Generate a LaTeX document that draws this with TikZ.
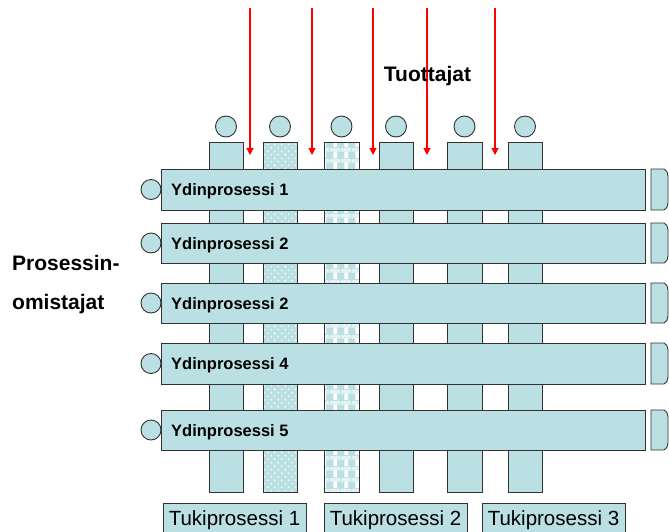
\documentclass[tikz,border=0pt]{standalone}
\usepackage{fontspec}
\setmainfont{Liberation Sans}
\usetikzlibrary{arrows.meta,patterns}

\definecolor{panelblue}{RGB}{187,224,227}
\definecolor{edgegray}{RGB}{50,50,50}
\definecolor{arrowred}{RGB}{255,0,0}

% sparse white dots for the second support column
\pgfdeclarepatternformonly{sparsedots}{\pgfqpoint{-1pt}{-1pt}}{\pgfqpoint{8pt}{8pt}}{\pgfqpoint{7pt}{7pt}}{%
  \pgfpathcircle{\pgfqpoint{1.75pt}{1.75pt}}{0.8pt}%
  \pgfpathcircle{\pgfqpoint{5.25pt}{5.25pt}}{0.8pt}%
  \pgfusepath{fill}}

% plaid-like weave for the third support column
\pgfdeclarepatternformonly{plaidweave}{\pgfqpoint{0pt}{0pt}}{\pgfqpoint{11pt}{11pt}}{\pgfqpoint{11pt}{11pt}}{%
  \pgfpathrectangle{\pgfqpoint{3.5pt}{0pt}}{\pgfqpoint{4pt}{7pt}}%
  \pgfpathrectangle{\pgfqpoint{0pt}{7pt}}{\pgfqpoint{1pt}{1pt}}%
  \pgfpathrectangle{\pgfqpoint{2pt}{7pt}}{\pgfqpoint{1pt}{1pt}}%
  \pgfpathrectangle{\pgfqpoint{4pt}{7pt}}{\pgfqpoint{1pt}{1pt}}%
  \pgfpathrectangle{\pgfqpoint{6pt}{7pt}}{\pgfqpoint{1pt}{1pt}}%
  \pgfpathrectangle{\pgfqpoint{8pt}{7pt}}{\pgfqpoint{1pt}{1pt}}%
  \pgfpathrectangle{\pgfqpoint{10pt}{7pt}}{\pgfqpoint{1pt}{1pt}}%
  \pgfpathrectangle{\pgfqpoint{1pt}{8pt}}{\pgfqpoint{1pt}{1pt}}%
  \pgfpathrectangle{\pgfqpoint{3pt}{8pt}}{\pgfqpoint{1pt}{1pt}}%
  \pgfpathrectangle{\pgfqpoint{5pt}{8pt}}{\pgfqpoint{1pt}{1pt}}%
  \pgfpathrectangle{\pgfqpoint{7pt}{8pt}}{\pgfqpoint{1pt}{1pt}}%
  \pgfpathrectangle{\pgfqpoint{9pt}{8pt}}{\pgfqpoint{1pt}{1pt}}%
  \pgfpathrectangle{\pgfqpoint{0pt}{9pt}}{\pgfqpoint{1pt}{1pt}}%
  \pgfpathrectangle{\pgfqpoint{2pt}{9pt}}{\pgfqpoint{1pt}{1pt}}%
  \pgfpathrectangle{\pgfqpoint{4pt}{9pt}}{\pgfqpoint{1pt}{1pt}}%
  \pgfpathrectangle{\pgfqpoint{6pt}{9pt}}{\pgfqpoint{1pt}{1pt}}%
  \pgfpathrectangle{\pgfqpoint{8pt}{9pt}}{\pgfqpoint{1pt}{1pt}}%
  \pgfpathrectangle{\pgfqpoint{10pt}{9pt}}{\pgfqpoint{1pt}{1pt}}%
  \pgfpathrectangle{\pgfqpoint{1pt}{10pt}}{\pgfqpoint{1pt}{1pt}}%
  \pgfpathrectangle{\pgfqpoint{3pt}{10pt}}{\pgfqpoint{1pt}{1pt}}%
  \pgfpathrectangle{\pgfqpoint{5pt}{10pt}}{\pgfqpoint{1pt}{1pt}}%
  \pgfpathrectangle{\pgfqpoint{7pt}{10pt}}{\pgfqpoint{1pt}{1pt}}%
  \pgfpathrectangle{\pgfqpoint{9pt}{10pt}}{\pgfqpoint{1pt}{1pt}}%
  \pgfusepath{fill}}

\tikzset{
  shapeline/.style={draw=edgegray, line width=0.9pt},
  column/.style={shapeline, fill=panelblue},
  dotcolumn/.style={fill=panelblue,
    postaction={pattern=sparsedots, pattern color=white},
    postaction={draw=edgegray, line width=0.9pt}},
  weavecolumn/.style={fill=panelblue,
    postaction={pattern=plaidweave, pattern color=white},
    postaction={draw=edgegray, line width=0.9pt}},
  corebar/.style={shapeline, fill=panelblue, rectangle, inner sep=0pt, minimum width=484pt, anchor=north west},
  endcap/.style={shapeline, fill=panelblue},
  owner/.style={shapeline, fill=panelblue, circle, inner sep=0pt, minimum size=20pt},
  producer/.style={shapeline, fill=panelblue, circle, inner sep=0pt, minimum size=21pt},
  corelabel/.style={anchor=base west, inner sep=0pt, font=\fontsize{16.5}{19}\selectfont\bfseries},
  headline/.style={inner sep=0pt, font=\fontsize{21}{25}\selectfont\bfseries},
  supportbox/.style={shapeline, fill=panelblue},
  supportlabel/.style={anchor=base, inner sep=0pt, font=\fontsize{20.5}{24}\selectfont},
  feed/.style={draw=arrowred, line width=1.2pt, -{Triangle[width=7pt,length=7pt]}},
}

\begin{document}
\begin{tikzpicture}[x=1pt, y=-1pt]
  \useasboundingbox (0,0) rectangle (669,531);

  % support-process columns running behind the core-process bars
  \path[column]      (209,142) rectangle (243,492);
  \path[dotcolumn]   (263,142) rectangle (297,492);
  \path[weavecolumn] (324,142) rectangle (359,492);
  \path[column]      (379,142) rectangle (413,492);
  \path[column]      (447,142) rectangle (482,492);
  \path[column]      (508,142) rectangle (542,492);

  % producers on top of the columns
  \node[producer] (p1) at (226,126.5) {};
  \node[producer] (p2) at (280,126.5) {};
  \node[producer] (p3) at (341.5,126.5) {};
  \node[producer] (p4) at (396,126.5) {};
  \node[producer] (p5) at (464.5,126.5) {};
  \node[producer] (p6) at (525,126.5) {};

  % core-process bars
  \node[corebar, minimum height=41pt] (b1) at (161,169) {};
  \node[corebar, minimum height=40pt] (b2) at (161,223) {};
  \node[corebar, minimum height=40pt] (b3) at (161,283) {};
  \node[corebar, minimum height=41pt] (b4) at (161,343) {};
  \node[corebar, minimum height=40pt] (b5) at (161,410) {};

  \node[corelabel] (t1) at (171,195.5) {Ydinprosessi 1};
  \node[corelabel] (t2) at (171,249) {Ydinprosessi 2};
  \node[corelabel] (t3) at (171,309) {Ydinprosessi 2};
  \node[corelabel] (t4) at (171,369.5) {Ydinprosessi 4};
  \node[corelabel] (t5) at (171,436) {Ydinprosessi 5};

  % process owners at the left end of each bar
  \node[owner] (o1) at (151,189.5) {};
  \node[owner] (o2) at (151,243) {};
  \node[owner] (o3) at (151,303) {};
  \node[owner] (o4) at (151,363.5) {};
  \node[owner] (o5) at (151,430) {};

  % end caps at the right of each bar
  \foreach \top/\bot in {169/210, 223/263, 283/323, 343/384, 410/450} {
    \path[endcap] (651,\top) -- (664,\top) .. controls (667,\top+2) .. (668,\top+7)
      -- (668,\bot-7) .. controls (667,\bot-2) .. (664,\bot) -- (651,\bot) -- cycle;
  }

  % producer inputs
  \foreach \i/\xx in {1/250, 2/312, 3/373, 4/427, 5/495} {
    \coordinate (fs\i) at (\xx,8);
    \coordinate (fe\i) at (\xx,155);
    \draw[feed] (fs\i) -- (fe\i);
  }

  % headings
  \node[headline, anchor=base] (prod) at (427.5,81) {Tuottajat};
  \node[headline, anchor=base west] (own1) at (12,270) {Prosessin-};
  \node[headline, anchor=base west] (own2) at (12,309.5) {omistajat};

  % support-process labels
  \path[supportbox] (163,503) rectangle (306,540);
  \path[supportbox] (324,503) rectangle (467,540);
  \path[supportbox] (482,503) rectangle (625,540);
  \node[supportlabel] (s1) at (234.5,525) {Tukiprosessi 1};
  \node[supportlabel] (s2) at (395.5,525) {Tukiprosessi 2};
  \node[supportlabel] (s3) at (553.5,525) {Tukiprosessi 3};
\end{tikzpicture}
\end{document}
